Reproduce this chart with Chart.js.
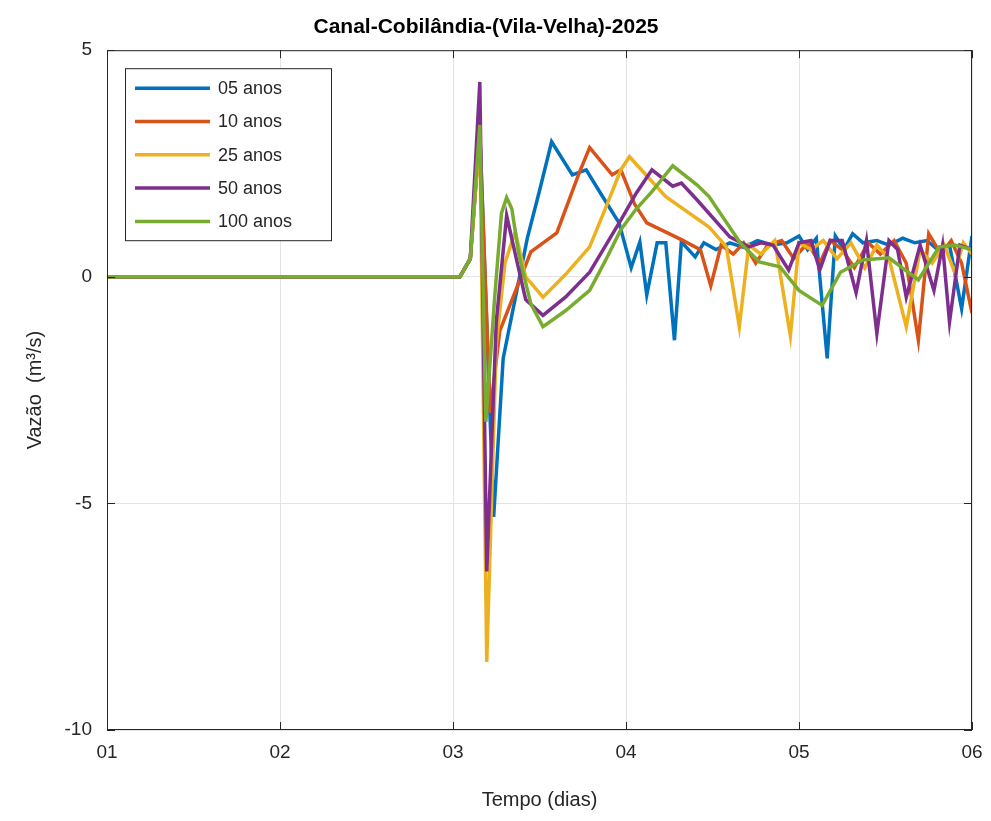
<!DOCTYPE html>
<html>
<head>
<meta charset="utf-8">
<script src="https://cdn.jsdelivr.net/npm/chart.js@4"></script>
<style>
  html, body { margin: 0; padding: 0; background: #fff; }
  #wrap { width: 991px; height: 821px; }
</style>
</head>
<body>
<div id="wrap"><canvas id="c" width="991" height="821"></canvas></div>
<script>
// ── Dados ──────────────────────────────────────────────────
const X_TICKS = [1, 2, 3, 4, 5, 6];
const Y_TICKS = [5, 0, -5, -10];

const NOMES = ['05 anos', '10 anos', '25 anos', '50 anos', '100 anos'];
const CORES = ['#0072BD', '#D95319', '#EDB120', '#7E2F8E', '#77AC30'];

const t05 = [1, 3.04, 3.10, 3.155, 3.235, 3.29, 3.43, 3.50, 3.57, 3.69, 3.77, 3.86, 3.96, 4.03, 4.08, 4.12, 4.18, 4.23, 4.28, 4.32, 4.40, 4.45, 4.52, 4.60, 4.68, 4.76, 4.85, 4.93, 5.00, 5.05, 5.10, 5.163, 5.21, 5.26, 5.31, 5.37, 5.45, 5.52, 5.60, 5.67, 5.74, 5.80, 5.87, 5.94, 6.0];
const q05 = [0, 0, 0.4, 3.2, -5.3, -1.8, 0.86, 1.9, 2.98, 2.25, 2.36, 1.8, 1.19, 0.2, 0.77, -0.4, 0.75, 0.75, -1.4, 0.77, 0.44, 0.75, 0.6, 0.75, 0.65, 0.8, 0.7, 0.75, 0.9, 0.6, 0.85, -1.8, 0.9, 0.6, 0.95, 0.75, 0.8, 0.7, 0.85, 0.75, 0.8, 0.6, 0.7, -0.7, 0.9];

const t10 = [1, 3.04, 3.10, 3.155, 3.215, 3.27, 3.45, 3.60, 3.73, 3.79, 3.92, 3.97, 4.05, 4.12, 4.32, 4.43, 4.49, 4.55, 4.62, 4.68, 4.75, 4.82, 4.90, 4.97, 5.05, 5.12, 5.18, 5.25, 5.32, 5.40, 5.47, 5.55, 5.62, 5.69, 5.75, 5.82, 5.88, 5.94, 6.0];
const q10 = [0, 0, 0.4, 3.2, -3.0, -1.2, 0.55, 0.97, 2.3, 2.85, 2.25, 2.36, 1.6, 1.19, 0.82, 0.6, -0.2, 0.7, 0.5, 0.75, 0.3, 0.7, 0.8, 0.4, 0.75, 0.3, 0.8, 0.6, 0.2, 0.75, 0.5, 0.8, 0.3, -1.4, 0.95, 0.5, 0.8, 0.3, -0.8];

const t25 = [1, 3.04, 3.10, 3.155, 3.195, 3.25, 3.30, 3.36, 3.42, 3.52, 3.65, 3.79, 3.88, 3.97, 4.02, 4.23, 4.48, 4.58, 4.655, 4.71, 4.78, 4.86, 4.95, 5.00, 5.07, 5.14, 5.22, 5.30, 5.38, 5.45, 5.52, 5.62, 5.70, 5.77, 5.84, 5.90, 5.95, 6.0];
const q25 = [0, 0, 0.4, 3.2, -8.5, -1.5, 0.3, 1.0, 0.0, -0.45, 0.05, 0.66, 1.5, 2.36, 2.65, 1.77, 1.1, 0.66, -1.1, 0.7, 0.5, 0.8, -1.3, 0.75, 0.6, 0.8, 0.4, 0.75, 0.2, 0.7, 0.4, -1.1, 0.6, 0.3, 0.7, 0.1, 0.75, 0.5];

const t50 = [1, 3.04, 3.10, 3.155, 3.195, 3.25, 3.31, 3.36, 3.42, 3.52, 3.65, 3.79, 3.97, 4.06, 4.15, 4.27, 4.32, 4.41, 4.60, 4.71, 4.78, 4.85, 4.94, 5.00, 5.07, 5.12, 5.18, 5.25, 5.33, 5.39, 5.45, 5.52, 5.57, 5.62, 5.70, 5.78, 5.83, 5.87, 5.93, 6.0];
const q50 = [0, 0, 0.4, 4.3, -6.5, -1.0, 1.35, 0.5, -0.5, -0.85, -0.45, 0.1, 1.25, 1.85, 2.36, 2.0, 2.07, 1.7, 0.88, 0.66, 0.75, 0.7, 0.15, 0.75, 0.8, 0.15, 0.8, 0.8, -0.35, 0.8, -1.25, 0.8, 0.6, -0.45, 0.7, -0.3, 0.7, -1.0, 0.7, 0.6];

const t100 = [1, 3.04, 3.10, 3.155, 3.19, 3.24, 3.28, 3.31, 3.34, 3.38, 3.45, 3.52, 3.65, 3.79, 3.88, 3.97, 4.06, 4.15, 4.27, 4.41, 4.48, 4.66, 4.77, 4.89, 5.00, 5.134, 5.24, 5.37, 5.52, 5.69, 5.81, 5.90, 6.0];
const q100 = [0, 0, 0.4, 3.35, -3.2, -0.5, 1.4, 1.75, 1.5, 0.5, -0.6, -1.1, -0.75, -0.3, 0.35, 1.04, 1.5, 1.88, 2.45, 2.03, 1.77, 0.75, 0.33, 0.22, -0.3, -0.63, 0.1, 0.37, 0.42, -0.07, 0.66, 0.7, 0.6];

const SERIES_T = [t05, t10, t25, t50, t100];
const SERIES_Q = [q05, q10, q25, q50, q100];

// ── Estilo ────────────────────────────────────────────────
const FONTE = '"Liberation Sans", Arial, Helvetica, sans-serif';
const TXT = '#262626';
const GRADE = '#e3e3e3';

const pontos = (t, q) => t.map((x, i) => ({ x, y: q[i] }));

const datasets = NOMES.map((nome, i) => ({
  label: nome,
  data: pontos(SERIES_T[i], SERIES_Q[i]),
  borderColor: CORES[i],
  backgroundColor: CORES[i],
  borderWidth: 3.5,
  pointRadius: 0,
  tension: 0,
  order: NOMES.length - i,   // 100 anos por cima
}));

// moldura (box on) + ticks internos, estilo MATLAB
const moldura = {
  id: 'moldura',
  afterDatasetsDraw(chart) {
    const { ctx, chartArea: a, scales: { x, y } } = chart;
    ctx.save();
    ctx.strokeStyle = TXT;
    ctx.lineWidth = 1;
    ctx.strokeRect(a.left + 0.5, a.top + 0.5, a.width - 1, a.height - 1);
    ctx.beginPath();
    X_TICKS.forEach(v => {
      const px = Math.round(x.getPixelForValue(v)) + 0.5;
      ctx.moveTo(px, a.bottom); ctx.lineTo(px, a.bottom - 8);
      ctx.moveTo(px, a.top);    ctx.lineTo(px, a.top + 8);
    });
    Y_TICKS.forEach(v => {
      const py = Math.round(y.getPixelForValue(v)) + 0.5;
      ctx.moveTo(a.left, py);  ctx.lineTo(a.left + 8, py);
      ctx.moveTo(a.right, py); ctx.lineTo(a.right - 8, py);
    });
    ctx.stroke();
    ctx.restore();
  }
};

// legenda dentro do eixo, canto superior esquerdo
const legendaBox = {
  id: 'legendaBox',
  afterDraw(chart) {
    const { ctx, chartArea: a } = chart;
    const bx = a.left + 18, by = a.top + 18, bw = 206, bh = 172;
    ctx.save();
    ctx.fillStyle = '#fff';
    ctx.fillRect(bx, by, bw, bh);
    ctx.strokeStyle = TXT;
    ctx.lineWidth = 1;
    ctx.strokeRect(bx + 0.5, by + 0.5, bw, bh);
    ctx.font = `18px ${FONTE}`;
    ctx.textBaseline = 'middle';
    chart.data.datasets.forEach((ds, i) => {
      const ry = by + 20 + i * 33.3;
      ctx.strokeStyle = ds.borderColor;
      ctx.lineWidth = 3.5;
      ctx.beginPath();
      ctx.moveTo(bx + 10, ry); ctx.lineTo(bx + 85, ry);
      ctx.stroke();
      ctx.fillStyle = TXT;
      ctx.fillText(ds.label, bx + 93, ry + 1);
    });
    ctx.restore();
  }
};

new Chart(document.getElementById('c'), {
  type: 'line',
  data: { datasets },
  plugins: [moldura, legendaBox],
  options: {
    responsive: false,
    animation: false,
    layout: { padding: { left: 0, right: 19, top: 0, bottom: 0 } },
    plugins: {
      legend: { display: false },
      tooltip: { enabled: false },
      title: {
        display: true,
        text: 'Canal-Cobilândia-(Vila-Velha)-2025',
        color: '#000',
        font: { family: FONTE, size: 21, weight: 'bold' },
        padding: { top: 15, bottom: 10 },
      },
    },
    scales: {
      x: {
        type: 'linear',
        min: 1, max: 6,
        afterFit: s => { s.height = 91; s.paddingLeft = 0; s.paddingRight = 0; },
        afterBuildTicks: s => { s.ticks = X_TICKS.map(v => ({ value: v })); },
        ticks: {
          color: TXT,
          font: { family: FONTE, size: 19 },
          padding: 11,
          maxRotation: 0,
          callback: v => String(v).padStart(2, '0'),
        },
        grid: { color: GRADE, drawTicks: false },
        border: { display: false },
        title: {
          display: true,
          text: 'Tempo (dias)',
          color: TXT,
          font: { family: FONTE, size: 20 },
          padding: { top: 0, bottom: 9 },
        },
      },
      y: {
        min: -10, max: 5,
        afterFit: s => { s.width = 107; },
        afterBuildTicks: s => { s.ticks = Y_TICKS.slice().reverse().map(v => ({ value: v })); },
        ticks: {
          color: TXT,
          font: { family: FONTE, size: 19 },
          padding: 15,
        },
        grid: { color: GRADE, drawTicks: false },
        border: { display: false },
        title: {
          display: true,
          text: 'Vazão  (m³/s)',
          color: TXT,
          font: { family: FONTE, size: 20 },
          padding: { top: 23, bottom: 0 },
        },
      },
    },
  },
});
</script>
</body>
</html>
